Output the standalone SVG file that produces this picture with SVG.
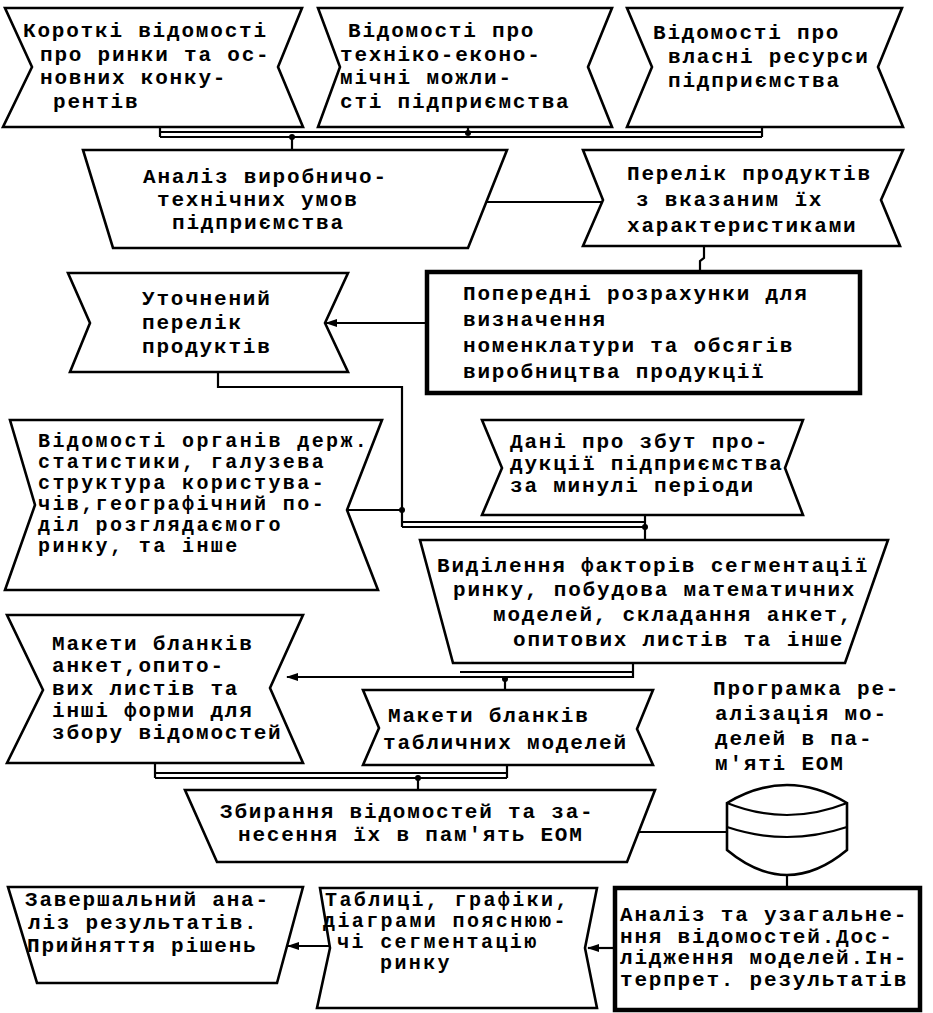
<svg xmlns="http://www.w3.org/2000/svg" width="933" height="1013" viewBox="0 0 933 1013">
<style>
.s{fill:#fff;stroke:#000;stroke-width:2.6;stroke-linejoin:miter}
.thick{stroke-width:4.5}
.c{fill:none;stroke:#000;stroke-width:2.2}
.d{fill:#000}
text{font-family:"Liberation Mono","DejaVu Sans Mono",monospace;font-weight:bold;font-size:21px;letter-spacing:1.8px;fill:#000}
.sm text{font-size:20px;letter-spacing:2.4px}
</style>
<defs>
<marker id="arr" markerUnits="userSpaceOnUse" markerWidth="12" markerHeight="8" refX="11" refY="4" orient="auto">
<path d="M0,0 L12,4 L0,8 z" fill="#000"/>
</marker>
</defs>
<rect width="933" height="1013" fill="#fff"/>

<g id="connectors">
<path class="c" d="M160,127 V137 M762,127 V137 M160,132 H762 M160,137 H762 M468,127 V132 M292,137 V150"/>
<circle class="d" cx="468" cy="133" r="3"/>
<circle class="d" cx="292" cy="137" r="3"/>
<path class="c" d="M486,202 H603"/>
<path class="c" d="M704,246 V258 L700,261 V272"/>
<path class="c" d="M427,323 H326" marker-end="url(#arr)"/>
<path class="c" d="M218,372 V387 H402 V527 M348,510 H402 M402,522 H645 M402,527 H645 M645,515 V540"/>
<circle class="d" cx="402" cy="510" r="3"/>
<circle class="d" cx="645" cy="527" r="3"/>
<path class="c" d="M633,663 V677 H287" marker-end="url(#arr)"/>
<path class="c" d="M460,672 H633 M505,677 V690"/>
<circle class="d" cx="505" cy="679" r="3"/>
<path class="c" d="M155,763 V778 M507,765 V778 M155,773 H507 M155,778 H507 M418,778 V790"/>
<circle class="d" cx="418" cy="778" r="3"/>
<path class="c" d="M639,832 H727"/>
<path class="c" d="M787,875 V888"/>
<path class="c" d="M615,948 H588" marker-end="url(#arr)"/>
<path class="c" d="M330,946 H288" marker-end="url(#arr)"/>
</g>

<g id="n1">
<polygon class="s" points="5,8 302,8 278,67 303,127 3,127 32,67"/>
<text x="23" y="37">Короткі відомості</text>
<text x="40" y="61">про ринки та ос-</text>
<text x="40" y="84">новних конку-</text>
<text x="53" y="108">рентів</text>
</g>

<g id="n2">
<polygon class="s" points="318,8 612,8 588,67 612,127 318,127 340,67"/>
<text x="348" y="37">Відомості про</text>
<text x="340" y="61">техніко-еконо-</text>
<text x="340" y="84">мічні можли-</text>
<text x="340" y="108">сті підприємства</text>
</g>

<g id="n3">
<polygon class="s" points="627,8 902,8 878,67 903,127 627,127 652,67"/>
<text x="653" y="39">Відомості про</text>
<text x="668" y="63">власні ресурси</text>
<text x="668" y="87">підприємства</text>
</g>

<g id="n4">
<polygon class="s" points="83,150 507,150 468,248 113,248"/>
<text x="143" y="183">Аналіз виробничо-</text>
<text x="157" y="206">технічних умов</text>
<text x="172" y="229">підприємства</text>
</g>

<g id="n5">
<polygon class="s" points="583,150 903,150 881,200 900,246 583,246 603,200"/>
<text x="627" y="180">Перелік продуктів</text>
<text x="636" y="206">з вказаним їх</text>
<text x="627" y="232">характеристиками</text>
</g>

<g id="n6">
<rect class="s thick" x="427" y="272" width="433" height="121"/>
<text x="463" y="300">Попередні розрахунки для</text>
<text x="463" y="326">визначення</text>
<text x="463" y="352">номенклатури та обсягів</text>
<text x="463" y="378">виробництва продукції</text>
</g>

<g id="n7">
<polygon class="s" points="68,273 348,273 325,323 348,372 70,372 90,323"/>
<text x="142" y="305">Уточнений</text>
<text x="142" y="329">перелік</text>
<text x="142" y="353">продуктів</text>
</g>

<g id="n8" class="sm">
<polygon class="s" points="10,420 382,420 347,510 378,590 5,590 35,505"/>
<text x="38" y="447">Відомості органів держ.</text>
<text x="38" y="468">статистики, галузева</text>
<text x="38" y="489">структура користува-</text>
<text x="38" y="510">чів,географічний по-</text>
<text x="38" y="531">діл розглядаємого</text>
<text x="38" y="552">ринку, та інше</text>
</g>

<g id="n9">
<polygon class="s" points="482,420 803,420 785,468 803,515 482,515 502,468"/>
<text x="510" y="448">Дані про збут про-</text>
<text x="510" y="470">дукції підприємства</text>
<text x="510" y="492">за минулі періоди</text>
</g>

<g id="n10">
<polygon class="s" points="420,540 888,540 845,663 453,663"/>
<text x="437" y="572">Виділення факторів сегментації</text>
<text x="453" y="596">ринку, побудова математичних</text>
<text x="493" y="621">моделей, складання анкет,</text>
<text x="513" y="646">опитових листів та інше</text>
</g>

<g id="n11">
<polygon class="s" points="7,615 303,615 270,688 303,763 7,763 43,690"/>
<text x="52" y="650">Макети бланків</text>
<text x="52" y="672">анкет,опито-</text>
<text x="52" y="695">вих листів та</text>
<text x="52" y="717">інші форми для</text>
<text x="52" y="739">збору відомостей</text>
</g>

<g id="n12">
<polygon class="s" points="363,690 653,690 637,729 653,765 363,765 379,728"/>
<text x="388" y="722">Макети бланків</text>
<text x="383" y="749">табличних моделей</text>
</g>

<g id="n13">
<polygon class="s" points="185,790 655,790 627,862 217,862"/>
<text x="220" y="818">Збирання відомостей та за-</text>
<text x="238" y="841">несення їх в пам'ять ЕОМ</text>
</g>

<g id="program-label">
<text x="713" y="695">Програмка ре-</text>
<text x="715" y="720">алізація мо-</text>
<text x="715" y="745">делей в па-</text>
<text x="715" y="770">м'яті ЕОМ</text>
</g>

<g id="storage">
<path class="s" d="M727,803 Q787,767 847,803 V850 Q787,900 727,850 Z"/>
<path class="c" d="M727,803 Q787,827 847,803 M727,827 Q787,847 847,827"/>
</g>

<g id="n14">
<rect class="s thick" x="615" y="888" width="305" height="122"/>
<text x="620" y="921">Аналіз та узагальне-</text>
<text x="620" y="943">ння відомостей.Дос-</text>
<text x="620" y="964">лідження моделей.Ін-</text>
<text x="620" y="986">терпрет. результатів</text>
</g>

<g id="n15" class="sm">
<polygon class="s" points="320,888 597,888 585,948 597,1008 317,1008 330,948"/>
<text x="325" y="906">Таблиці, графіки,</text>
<text x="323" y="927">діаграми пояснюю-</text>
<text x="337" y="948">чі сегментацію</text>
<text x="380" y="969">ринку</text>
</g>

<g id="n16">
<polygon class="s" points="8,887 303,887 277,983 37,983"/>
<text x="25" y="906">Завершальний ана-</text>
<text x="28" y="929">ліз результатів.</text>
<text x="27" y="952">Прийняття рішень</text>
</g>
</svg>
